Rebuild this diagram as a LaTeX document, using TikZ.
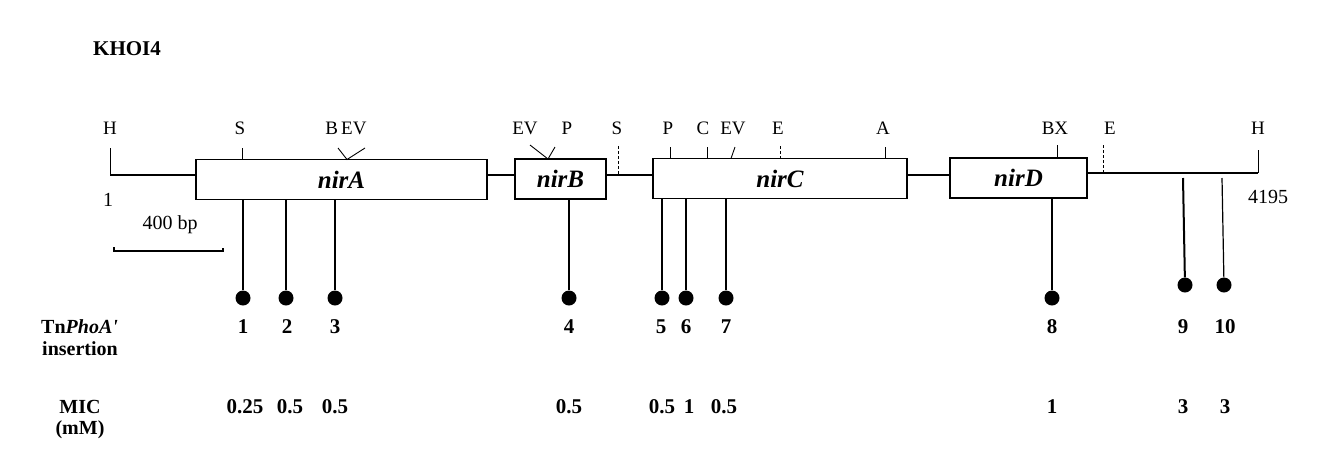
\documentclass[tikz,border=0pt]{standalone}
\usepackage{fontspec}
\setmainfont{Liberation Serif}
\begin{document}
\begin{tikzpicture}[x=1pt,y=-1pt,
  gene/.style={draw,line width=1.1pt,minimum height=40pt,inner sep=0pt,font=\fontsize{25}{25}\selectfont\bfseries\itshape},
  site/.style={font=\fontsize{19}{19}\selectfont,inner sep=0pt},
  thin/.style={font=\fontsize{20}{20}\selectfont,inner sep=0pt},
  tick/.style={line width=0.9pt},
  dna/.style={line width=2.6pt},
  ins/.style={line width=1.2pt},
  insb/.style={line width=2pt},
  dot/.style={circle,fill,inner sep=0pt,minimum width=14pt,minimum height=15pt},
  num/.style={font=\fontsize{21}{21}\selectfont\bfseries,inner sep=0pt},
  lab/.style={font=\fontsize{20}{20}\selectfont\bfseries,inner sep=0pt}]
\useasboundingbox (0,0) rectangle (1317,475);

% title
\node[lab,anchor=west,font=\fontsize{21}{21}\selectfont\bfseries] (title) at (93,49) {KHOI4};

% genes
\node[gene,minimum width=291pt] (nirA) at (341.5,179.5) {nirA};
\node[gene,minimum width=91pt] (nirB) at (560.5,179) {nirB};
\node[gene,minimum width=254pt] (nirC) at (780,178.5) {nirC};
\node[gene,minimum width=137pt] (nirD) at (1018.5,178) {nirD};

% DNA line
\coordinate (hL) at (110,175);
\coordinate (hR) at (1258,173);
\draw[dna] (hL) -- (hL -| nirA.west);
\draw[dna] (nirA.east |- hL) -- (nirB.west |- hL);
\draw[dna] (nirB.east |- hL) -- (nirC.west |- hL);
\draw[dna] (nirC.east |- hL) -- (nirD.west |- hL);
\draw[dna] (nirD.east |- hR) -- (hR);

% restriction sites
\node[site] (sH1) at (110,128) {H};
\draw[tick] (110,148) -- (hL);
\node[site] (sS1) at (240,128) {S};
\draw[tick] (242,148) -- (242,160);
\node[site] (sBEV) at (346,128) {B\,EV};
\draw[tick] (338,148) -- (347,159.5) -- (365,148);
\node[site] (sEV2) at (525,128) {EV};
\node[site] (sP1) at (567,128) {P};
\draw[tick] (530,145) -- (548,159) -- (555,147);
\node[site] (sS2) at (617,128) {S};
\draw[tick,dash pattern=on 3pt off 2pt] (618,146) -- (618,174);
\node[site] (sP2) at (668,128) {P};
\draw[tick] (670,147) -- (670,158.5);
\node[site] (sC) at (703,128) {C};
\draw[tick] (707,147) -- (707,158.5);
\node[site] (sEV3) at (733,128) {EV};
\draw[tick] (731,158.5) -- (735,147);
\node[site] (sE1) at (778,128) {E};
\draw[tick,dash pattern=on 3pt off 2pt] (780,146) -- (780,158.5);
\node[site] (sA) at (883,128) {A};
\draw[tick] (885,147) -- (885,158.5);
\node[site] (sBX) at (1055,128) {BX};
\draw[tick] (1057,145) -- (1057,158);
\node[site] (sE2) at (1110,128) {E};
\draw[tick,dash pattern=on 3pt off 2pt] (1103,145) -- (1103,172);
\node[site] (sH2) at (1258,128) {H};
\draw[tick] (1258,150) -- (hR);

% coordinates / scale
\node[thin] (one) at (108,200) {1};
\node[thin] (len) at (1268,197) {4195};
\node[thin] (bp) at (170,225) {400 bp};
\coordinate (sb1) at (114,247);
\coordinate (sb2) at (223,248);
\draw[line width=1.2pt] (sb1) -- (114,251) -- (223,251) -- (sb2);

% insertions
\node[dot] (d1) at (243,298) {};
\node[dot] (d2) at (286,298) {};
\node[dot] (d3) at (335,298) {};
\node[dot] (d4) at (569,298) {};
\node[dot] (d5) at (662,298) {};
\node[dot] (d6) at (686,298) {};
\node[dot] (d7) at (726,298) {};
\node[dot] (d8) at (1052,298) {};
\node[dot] (d9) at (1185,285) {};
\node[dot] (d10) at (1224,285) {};
\draw[ins] (d1 |- nirA.south) -- (d1);
\draw[ins] (d2 |- nirA.south) -- (d2);
\draw[insb] (d3 |- nirA.south) -- (d3);
\draw[ins] (d4 |- nirB.south) -- (d4);
\draw[insb] (d5 |- nirC.south) -- (d5);
\draw[ins] (d6 |- nirC.south) -- (d6);
\draw[ins] (d7 |- nirC.south) -- (d7);
\draw[ins] (d8 |- nirD.south) -- (d8);
\coordinate (t9) at (1183,178);
\coordinate (t10) at (1222,178);
\draw[insb] (t9) -- (d9);
\draw[ins] (t10) -- (d10);

% labels
\node[lab,anchor=west] (tnlab) at (41,327) {Tn\textit{PhoA\textquotesingle}};
\node[lab,anchor=west] (inslab) at (42,349) {insertion};
\node[lab] (miclab) at (80,407) {MIC};
\node[lab] (mmlab) at (80,430) {(mM)};

% insertion numbers
\node[num] (n1) at (243,327) {1};
\node[num] (n2) at (287,327) {2};
\node[num] (n3) at (335,327) {3};
\node[num] (n4) at (569,327) {4};
\node[num] (n5) at (661,327) {5};
\node[num] (n6) at (686,327) {6};
\node[num] (n7) at (726,327) {7};
\node[num] (n8) at (1052,327) {8};
\node[num] (n9) at (1183,327) {9};
\node[num] (n10) at (1225,327) {10};

% MIC values
\node[num] (m1) at (245,407) {0.25};
\node[num] (m2) at (290,407) {0.5};
\node[num] (m3) at (335,407) {0.5};
\node[num] (m4) at (569,407) {0.5};
\node[num] (m5) at (662,407) {0.5};
\node[num] (m6) at (689,407) {1};
\node[num] (m7) at (724,407) {0.5};
\node[num] (m8) at (1052,407) {1};
\node[num] (m9) at (1183,407) {3};
\node[num] (m10) at (1225,407) {3};
\end{tikzpicture}
\end{document}
